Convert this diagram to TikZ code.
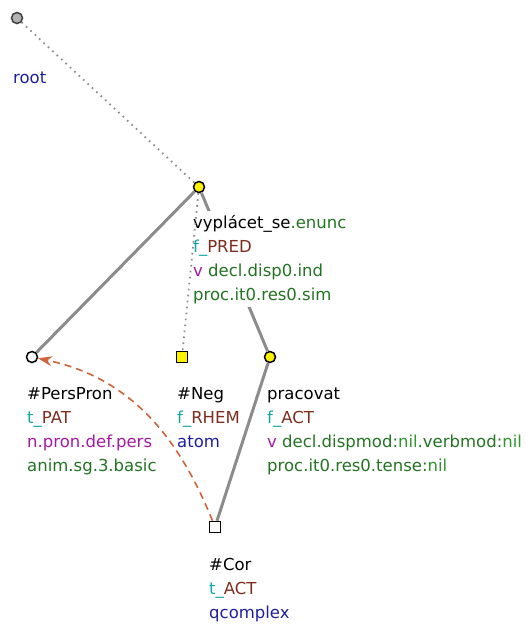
\documentclass[tikz,border=0pt]{standalone}
\usepackage{fontspec}
\setmainfont{DejaVu Sans}
\usetikzlibrary{arrows.meta}

\definecolor{funccol}{RGB}{20,165,165}
\definecolor{fvalcol}{RGB}{125,45,30}
\definecolor{poscol}{RGB}{165,25,165}
\definecolor{gramcol}{RGB}{35,115,35}
\definecolor{nilcol}{RGB}{45,150,45}
\definecolor{typecol}{RGB}{30,30,160}
\definecolor{corefcol}{RGB}{205,100,60}
\definecolor{edgecol}{RGB}{140,140,140}

\newcommand{\lines}[1]{\begin{tabular}[t]{@{}l@{}}#1\end{tabular}}

\begin{document}
\begin{tikzpicture}[x=1pt,y=1pt]
    \tikzset{
        tnode/.style={draw, circle, inner sep=0pt, minimum size=11pt, line width=1.5pt},
        cnode/.style={draw, rectangle, inner sep=0pt, minimum size=11pt, line width=1.5pt},
        desc/.style={anchor=base west, inner sep=0pt, font=\fontsize{16.5}{24}\selectfont},
        dep/.style={draw=edgecol, line width=3pt},
        hid/.style={draw=edgecol, line width=1.8pt, dash pattern=on 1.6pt off 4.4pt},
        coref/.style={draw=corefcol, line width=1.6pt, dash pattern=on 7pt off 5pt,
            -{Stealth[length=14pt,width=10pt]}}
    }
    \useasboundingbox (0,0) rectangle (526,-626);

    % tree nodes
    \draw node[tnode, fill=gray!60, draw=black!75] (root) at (17,-18) {};
    \draw node[tnode, fill=yellow] (vypl) at (199,-187) {};
    \draw node[tnode, fill=white] (pers) at (32,-357) {};
    \draw node[cnode, fill=yellow] (neg) at (182,-357) {};
    \draw node[tnode, fill=yellow] (prac) at (270,-357) {};
    \draw node[cnode, fill=white] (cor) at (215,-527) {};

    % edges
    \draw[hid] (root) -- (vypl);
    \draw[dep] (vypl) -- (pers);
    \draw[dep] (vypl) -- (prac);
    \draw[dep] (prac) -- (cor);
    \draw[coref] (cor) to[out=112, in=-12] (pers);

    % labels
    \node[desc] (root-lbl) at (13,-83) {\textcolor{typecol}{root}};
    \node[desc, fill=white] (vypl-lbl) at (193,-228) {\lines{%
        vyplácet\_se\textcolor{gramcol}{.enunc}\\
        \textcolor{funccol}{f\_}\textcolor{fvalcol}{PRED}\\
        \textcolor{poscol}{v} \textcolor{gramcol}{decl.disp0.ind}\\
        \textcolor{gramcol}{proc.it0.res0.sim}}};
    \node[desc] (pers-lbl) at (27,-399) {\lines{%
        \#PersPron\\
        \textcolor{funccol}{t\_}\textcolor{fvalcol}{PAT}\\
        \textcolor{poscol}{n.pron.def.pers}\\
        \textcolor{gramcol}{anim.sg.3.basic}}};
    \node[desc] (neg-lbl) at (177,-399) {\lines{%
        \#Neg\\
        \textcolor{funccol}{f\_}\textcolor{fvalcol}{RHEM}\\
        \textcolor{typecol}{atom}}};
    \node[desc] (prac-lbl) at (267,-399) {\lines{%
        pracovat\\
        \textcolor{funccol}{f\_}\textcolor{fvalcol}{ACT}\\
        \textcolor{poscol}{v} \textcolor{gramcol}{decl.dispmod:}\textcolor{nilcol}{nil}\textcolor{gramcol}{.verbmod:}\textcolor{nilcol}{nil}\\
        \textcolor{gramcol}{proc.it0.res0.tense:}\textcolor{nilcol}{nil}}};
    \node[desc] (cor-lbl) at (209,-570) {\lines{%
        \#Cor\\
        \textcolor{funccol}{t\_}\textcolor{fvalcol}{ACT}\\
        \textcolor{typecol}{qcomplex}}};

    % hidden edge over the label
    \draw[hid] (vypl) -- (neg);
\end{tikzpicture}
\end{document}
